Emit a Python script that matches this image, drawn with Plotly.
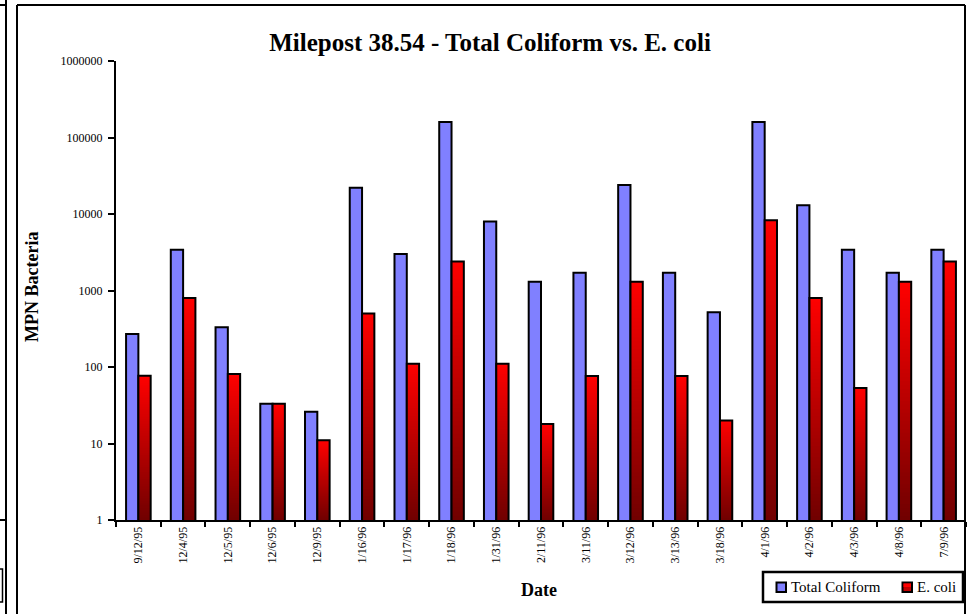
import plotly.graph_objects as go

# Sampling dates and MPN counts per 100 mL
dates = ["9/12/95", "12/4/95", "12/5/95", "12/6/95", "12/9/95", "1/16/96", "1/17/96",
         "1/18/96", "1/31/96", "2/11/96", "3/11/96", "3/12/96", "3/13/96", "3/18/96",
         "4/1/96", "4/2/96", "4/3/96", "4/8/96", "7/9/96"]
total_coliform = [270, 3400, 330, 33, 26, 22000, 3000, 160000, 8000, 1300, 1700,
                  24000, 1700, 520, 160000, 13000, 3400, 1700, 3400]
e_coli = [77, 800, 81, 33, 11, 500, 110, 2400, 110, 18, 76, 1300, 76, 20, 8300,
          800, 53, 1300, 2400]

y_tick_values = [1, 10, 100, 1000, 10000, 100000, 1000000]
y_tick_labels = ["1", "10", "100", "1000", "10000", "100000", "1000000"]

FONT = "Liberation Serif, Times New Roman, serif"
BLUE = "#8080FF"
RED_TOP = (255, 0, 0)
RED_BOTTOM = (112, 0, 0)
N_STEPS = 60

# plot-area geometry in pixels (used to place decoration in paper units)
W, H = 977, 614
L, R, T, B = 116, 11, 61, 94
PW, PH = W - L - R, H - T - B


def px(x):
    return (x - L) / PW


def py(y):
    return (H - B - y) / PH


fig = go.Figure()

fig.add_trace(go.Bar(
    x=dates, y=total_coliform, name="Total Coliform", offsetgroup="tc",
    marker=dict(color=BLUE, line=dict(color="black", width=2)),
))

# vertical gradient: each step starts higher up the (log) bar and runs to its top,
# so later steps paint over earlier ones without seams
for k in range(N_STEPS):
    t = (k + 0.5) / N_STEPS
    c = tuple(round(RED_BOTTOM[i] + (RED_TOP[i] - RED_BOTTOM[i]) * t) for i in range(3))
    lo = [v ** (k / N_STEPS) for v in e_coli]
    fig.add_trace(go.Bar(
        x=dates, y=[v - l for v, l in zip(e_coli, lo)], base=lo, offsetgroup="ec",
        name="E. coli", hoverinfo="skip",
        marker=dict(color="rgb(%d,%d,%d)" % c, line=dict(width=0)),
    ))

# outline on top of the gradient
fig.add_trace(go.Bar(
    x=dates, y=e_coli, offsetgroup="ec", name="E. coli",
    marker=dict(color="rgba(0,0,0,0)", line=dict(color="black", width=2)),
))

# chart borders (this chart and the edge of the neighbouring one)
border = dict(color="black", width=2)
lines = [
    (17, 5, 17, 614), (17, 5, 965, 5), (965, 5, 965, 614),
    (6, 0, 6, 614), (0, 5, 6, 5), (0, 520, 6, 520),
]
shapes = [dict(type="line", xref="paper", yref="paper",
               x0=px(a), y0=py(b), x1=px(c), y1=py(d), line=border)
          for a, b, c, d in lines]
shapes.append(dict(type="rect", xref="paper", yref="paper",
                   x0=px(-2), y0=py(569), x1=px(2.5), y1=py(602),
                   line=dict(color="black", width=1.5)))

# legend box with its two swatches
shapes.append(dict(type="rect", xref="paper", yref="paper",
                   x0=px(763), y0=py(572), x1=px(963), y1=py(602),
                   line=dict(color="black", width=2.5), fillcolor="white"))
shapes.append(dict(type="rect", xref="paper", yref="paper",
                   x0=px(776.5), y0=py(582.5), x1=px(786), y1=py(592),
                   line=dict(color="black", width=2), fillcolor=BLUE))
shapes.append(dict(type="rect", xref="paper", yref="paper",
                   x0=px(902.5), y0=py(582.5), x1=px(912), y1=py(592),
                   line=dict(color="black", width=2), fillcolor="#C00000"))
shapes.append(dict(type="rect", xref="paper", yref="paper",
                   x0=px(903.5), y0=py(583.5), x1=px(911), y1=py(587),
                   line=dict(width=0), fillcolor="#FF0000"))

legend_labels = [("Total Coliform", 790), ("E. coli", 916)]

annotations = [
    dict(text="<b>MPN Bacteria</b>", xref="paper", yref="paper",
         x=px(32), y=py(287), textangle=-90, showarrow=False,
         font=dict(size=18), xanchor="center", yanchor="middle"),
    dict(text="<b>Date</b>", xref="paper", yref="paper",
         x=px(539), y=py(590), showarrow=False,
         font=dict(size=18), xanchor="center", yanchor="middle"),
]
for label, x0 in legend_labels:
    annotations.append(dict(text=label, xref="paper", yref="paper",
                            x=px(x0), y=py(586.5), showarrow=False,
                            font=dict(size=15), xanchor="left", yanchor="middle",
                            borderpad=0))

fig.update_layout(
    width=W, height=H,
    margin=dict(l=L, r=R, t=T, b=B, pad=0, autoexpand=False),
    paper_bgcolor="white", plot_bgcolor="white",
    barmode="group", bargap=0.45, bargroupgap=0,
    showlegend=False,
    font=dict(family=FONT, color="black"),
    title=dict(text="<b>Milepost 38.54 - Total Coliform vs. E. coli</b>",
               font=dict(size=25, family=FONT),
               xref="container", x=490 / W, xanchor="center",
               yref="container", y=1 - 42 / H, yanchor="middle"),
    xaxis=dict(type="category", showline=True, linecolor="black", linewidth=2,
               ticks="outside", tickson="boundaries", ticklen=5, tickwidth=2,
               tickcolor="black", tickangle=-90, tickfont=dict(size=12),
               showgrid=False, zeroline=False, automargin=False),
    yaxis=dict(type="log", range=[0, 6], showline=True, linecolor="black", linewidth=2,
               tickvals=y_tick_values, ticktext=y_tick_labels,
               ticks="outside", ticklen=6, tickwidth=2, tickcolor="black",
               tickfont=dict(size=12), ticklabelstandoff=3,
               showgrid=False, zeroline=False, automargin=False),
    annotations=annotations,
    shapes=shapes,
)

fig.write_html("out.html")
